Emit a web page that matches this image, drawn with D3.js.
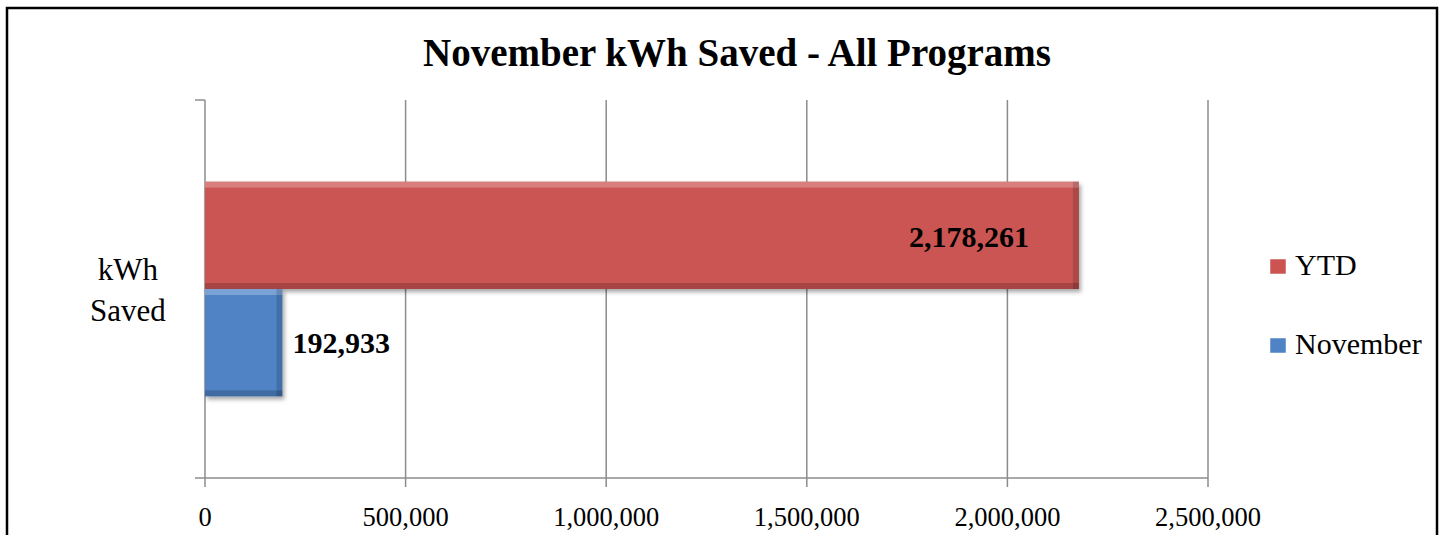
<!DOCTYPE html>
<html>
<head>
<meta charset="utf-8">
<script src="https://cdn.jsdelivr.net/npm/d3@7"></script>
<style>
  body { margin: 0; background: #fff; }
  text { font-family: "Liberation Serif", "DejaVu Serif", serif; }
</style>
</head>
<body>
<div id="chart"></div>
<script>
// data
var categories = ["kWh Saved"];
var seriesNames = ["YTD", "November"];
var seriesValues = [2178261, 192933];
var seriesColors = ["#CB5452", "#4F83C6"];
var tickValues = [0, 500000, 1000000, 1500000, 2000000, 2500000];

// set the dimensions and margins of the graph
var W = 1442, H = 535;
var margin = { top: 100, left: 205 },
    width = 1208 - 205,
    height = 478 - 100;

var svg = d3.select("#chart").append("svg")
    .attr("width", W)
    .attr("height", H);

// frame
svg.append("rect")
    .attr("x", 7).attr("y", 8)
    .attr("width", 1430).attr("height", 560)
    .attr("fill", "none")
    .attr("stroke", "#000")
    .attr("stroke-width", 2.5);

var defs = svg.append("defs");
var f = defs.append("filter").attr("id", "shadow")
    .attr("x", "-5%").attr("y", "-10%").attr("width", "115%").attr("height", "130%");
f.append("feDropShadow").attr("dx", 2).attr("dy", 3).attr("stdDeviation", 2)
    .attr("flood-color", "#000").attr("flood-opacity", 0.35);

// title
svg.append("text")
    .attr("x", 737).attr("y", 66)
    .attr("text-anchor", "middle")
    .attr("font-size", 39)
    .attr("font-weight", "bold")
    .text("November kWh Saved - All Programs");

var g = svg.append("g")
    .attr("transform", "translate(" + margin.left + "," + margin.top + ")");

// set the ranges
var x = d3.scaleLinear().domain([0, 2500000]).range([0, width]);
var yCat = d3.scaleBand().domain(categories).range([height, 0]);
var ySer = d3.scaleBand().domain(seriesNames)
    .range([0, yCat.bandwidth()])
    .paddingOuter(0.76).paddingInner(0);

// gridlines
g.selectAll(".grid")
    .data(tickValues.slice(1))
    .enter().append("line")
    .attr("x1", function (d) { return x(d); })
    .attr("x2", function (d) { return x(d); })
    .attr("y1", 0).attr("y2", height + 9)
    .attr("stroke", "#8c8c8c").attr("stroke-width", 1.5);

// y axis
g.append("line")
    .attr("x1", 0).attr("x2", 0).attr("y1", 0).attr("y2", height + 9)
    .attr("stroke", "#8c8c8c").attr("stroke-width", 1.5);
g.append("line")
    .attr("x1", -10).attr("x2", 0).attr("y1", 0).attr("y2", 0)
    .attr("stroke", "#8c8c8c").attr("stroke-width", 1.5);

// x axis
g.append("line")
    .attr("x1", -10).attr("x2", width).attr("y1", height).attr("y2", height)
    .attr("stroke", "#8c8c8c").attr("stroke-width", 1.5);

g.selectAll(".tick-label")
    .data(tickValues)
    .enter().append("text")
    .attr("x", function (d) { return x(d); })
    .attr("y", height + 48)
    .attr("text-anchor", "middle")
    .attr("font-size", 26.5)
    .text(function (d) { return d3.format(",")(d); });

// bars
var bars = seriesNames.map(function (s, i) {
    return { name: s, value: seriesValues[i], color: seriesColors[i], cat: categories[0] };
});

var bar = g.selectAll(".bar")
    .data(bars)
    .enter().append("g")
    .attr("class", "bar");

bar.append("rect")
    .attr("x", 0)
    .attr("y", function (d) { return yCat(d.cat) + ySer(d.name); })
    .attr("width", function (d) { return x(d.value); })
    .attr("height", ySer.bandwidth())
    .attr("fill", function (d) { return d.color; })
    .attr("filter", "url(#shadow)");

// bevel: light top, dark bottom and right
var bev = 6;
bar.append("rect")
    .attr("x", 0)
    .attr("y", function (d) { return yCat(d.cat) + ySer(d.name); })
    .attr("width", function (d) { return x(d.value); })
    .attr("height", bev)
    .attr("fill", "#fff").attr("opacity", 0.25);
bar.append("rect")
    .attr("x", 0)
    .attr("y", function (d) { return yCat(d.cat) + ySer(d.name) + ySer.bandwidth() - bev; })
    .attr("width", function (d) { return x(d.value); })
    .attr("height", bev)
    .attr("fill", "#000").attr("opacity", 0.18);
bar.append("rect")
    .attr("x", function (d) { return x(d.value) - bev; })
    .attr("y", function (d) { return yCat(d.cat) + ySer(d.name); })
    .attr("width", bev)
    .attr("height", ySer.bandwidth())
    .attr("fill", "#000").attr("opacity", 0.15);

// value labels
bar.append("text")
    .attr("x", function (d, i) { return i === 0 ? x(d.value) - 50 : x(d.value) + 10; })
    .attr("y", function (d, i) { return yCat(d.cat) + ySer(d.name) + ySer.bandwidth() / 2 + (i === 0 ? 12 : 10); })
    .attr("text-anchor", function (d, i) { return i === 0 ? "end" : "start"; })
    .attr("font-size", 30)
    .attr("font-weight", "bold")
    .text(function (d) { return d3.format(",")(d.value); });

// category label
var catLabel = svg.append("text")
    .attr("text-anchor", "middle")
    .attr("font-size", 31);
catLabel.append("tspan").attr("x", 128).attr("y", 280).text("kWh");
catLabel.append("tspan").attr("x", 128).attr("y", 321).text("Saved");

// legend
var legend = svg.selectAll(".legend")
    .data(bars)
    .enter().append("g")
    .attr("transform", function (d, i) { return "translate(1270," + (259 + i * 79) + ")"; });
legend.append("rect")
    .attr("width", 16).attr("height", 15)
    .attr("fill", function (d) { return d.color; })
    .attr("stroke", "#fff").attr("stroke-width", 0.5);
legend.append("text")
    .attr("x", 25).attr("y", 16)
    .attr("font-size", 30)
    .text(function (d) { return d.name; });
</script>
</body>
</html>
